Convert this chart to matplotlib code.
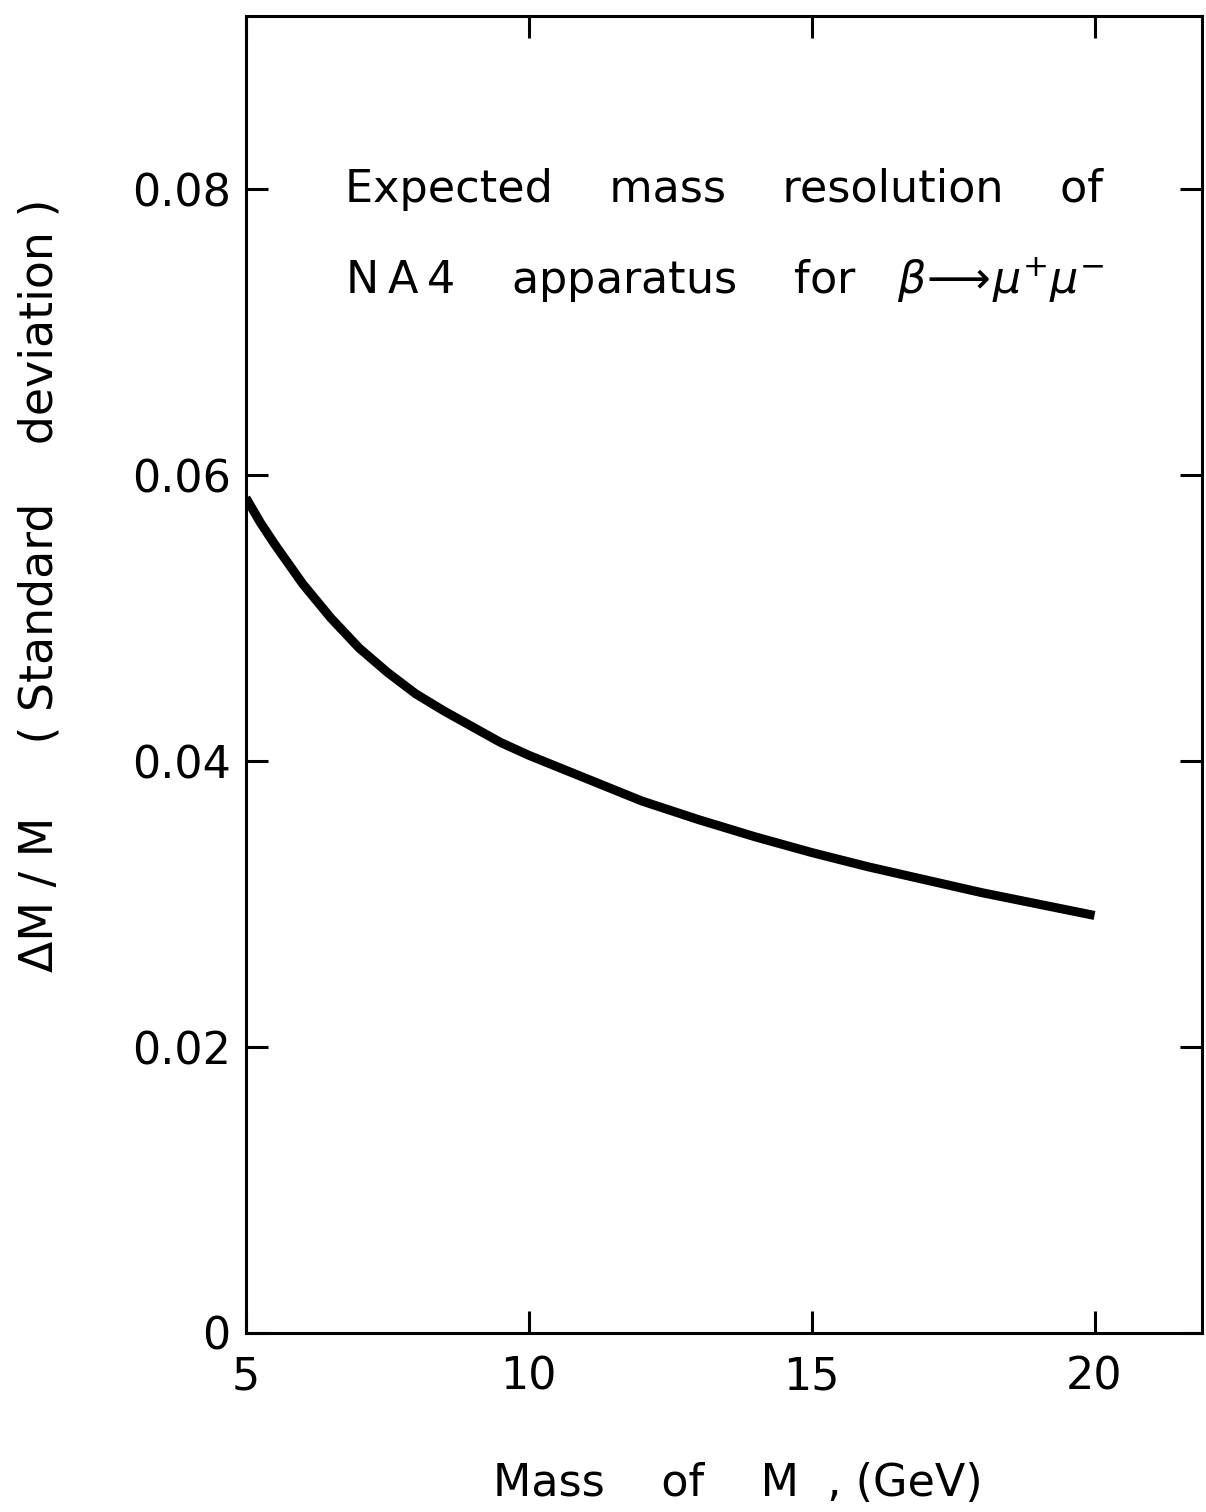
import numpy as np
import matplotlib
matplotlib.use('Agg')
import matplotlib.pyplot as plt

# Mass resolution
mass = [5, 5.25, 5.5, 6, 6.5, 7, 7.5, 8, 8.5, 9, 9.5, 10, 11, 12, 13, 14,
        15, 16, 17, 18, 19, 20]
resolution = [0.0584, 0.0567, 0.0552, 0.0524, 0.0500, 0.0479, 0.0462, 0.0447,
              0.0435, 0.0424, 0.0413, 0.0404, 0.0388, 0.0372, 0.0359, 0.0347,
              0.0336, 0.0326, 0.0317, 0.0308, 0.0300, 0.0292]

x_ticks = [5, 10, 15, 20]
x_ticklabels = ['5', '10', '15', '20']
y_ticks = [0, 0.02, 0.04, 0.06, 0.08]
y_ticklabels = ['0', '0.02', '0.04', '0.06', '0.08']

plt.rcParams['font.family'] = 'DejaVu Sans'
plt.rcParams['mathtext.fontset'] = 'dejavusans'

fig = plt.figure(figsize=(12.06, 15.12), dpi=100)
ax = fig.add_axes([246/1206, 1 - 1333/1512, (1202 - 246)/1206, (1333 - 16)/1512])

ax.plot(mass, resolution, color='black', lw=6.5, solid_capstyle='butt',
        solid_joinstyle='round')

ax.set_xlim(5, 21.9)
ax.set_ylim(0, 0.0921)
ax.set_xticks(x_ticks)
ax.set_xticklabels(x_ticklabels)
ax.set_yticks(y_ticks)
ax.set_yticklabels(y_ticklabels)

for s in ax.spines.values():
    s.set_linewidth(2.2)

ax.tick_params(axis='both', direction='in', length=16, width=2.2,
               top=True, right=True, labelsize=32)
ax.tick_params(axis='x', pad=16)
ax.tick_params(axis='y', pad=11)

ax.text(6.75, 0.0800, 'Expected    mass    resolution    of',
        fontsize=32, va='center', ha='left')
ax.text(6.75, 0.0736,
        'N\u2009A\u20094    apparatus    for   $\\beta\\!\\longrightarrow\\!\\mu^{+}\\mu^{-}$',
        fontsize=32, va='center', ha='left')

fig.text(738/1206, 1 - 1483/1512, 'Mass    of    M  , (GeV)',
         fontsize=32, ha='center', va='center')
fig.text(40/1206, 1 - 585/1512, '\u0394M / M     ( Standard    deviation )',
         fontsize=33, ha='center', va='center', rotation=90)

fig.savefig('out.png', dpi=100, facecolor='white')
